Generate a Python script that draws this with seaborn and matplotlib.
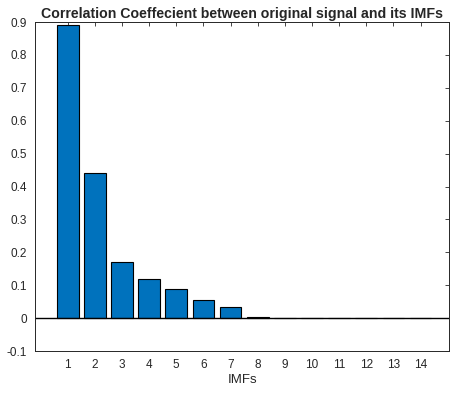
import matplotlib
matplotlib.use("Agg")
import matplotlib.pyplot as plt
import seaborn as sns
import pandas as pd

imfs = ["1", "2", "3", "4", "5", "6", "7", "8", "9", "10", "11", "12", "13", "14"]
corr = [0.890, 0.440, 0.170, 0.118, 0.088, 0.055, 0.034, 0.003, 0.001, 0.001, 0.001, 0.001, 0.001, 0.001]
yticks = [-0.1, 0, 0.1, 0.2, 0.3, 0.4, 0.5, 0.6, 0.7, 0.8, 0.9]
ytick_labels = ["-0.1", "0", "0.1", "0.2", "0.3", "0.4", "0.5", "0.6", "0.7", "0.8", "0.9"]

sns.set_style("white")
plt.rcParams["font.family"] = ["Liberation Sans", "DejaVu Sans"]

df = pd.DataFrame({"IMF": imfs, "corr": corr})

fig = plt.figure(figsize=(4.5, 3.94), dpi=100)
ax = fig.add_axes([0.078, 0.109, 0.920, 0.835])
sns.barplot(data=df, x="IMF", y="corr", color="#0072BD", edgecolor="black",
            linewidth=0.8, width=0.8, saturation=1, ax=ax)
ax.axhline(0, color="black", linewidth=1.0)
ax.set_xlim(-1.2, 14.05)
ax.set_ylim(-0.1, 0.9)
ax.set_yticks(yticks)
ax.set_yticklabels(ytick_labels)
ax.set_xlabel("IMFs", fontsize=9.5, color="#262626", labelpad=2)
ax.set_ylabel("")
ax.set_title("Correlation Coeffecient between original signal and its IMFs",
             fontsize=10.2, fontweight="bold", pad=3)
ax.tick_params(direction="in", length=3, width=0.6, top=True, right=True,
               labelsize=8.5, labelcolor="#262626", colors="#262626", pad=6)
for s in ax.spines.values():
    s.set_color("#262626")
    s.set_linewidth(0.7)

fig.savefig("out.png", dpi=100)
